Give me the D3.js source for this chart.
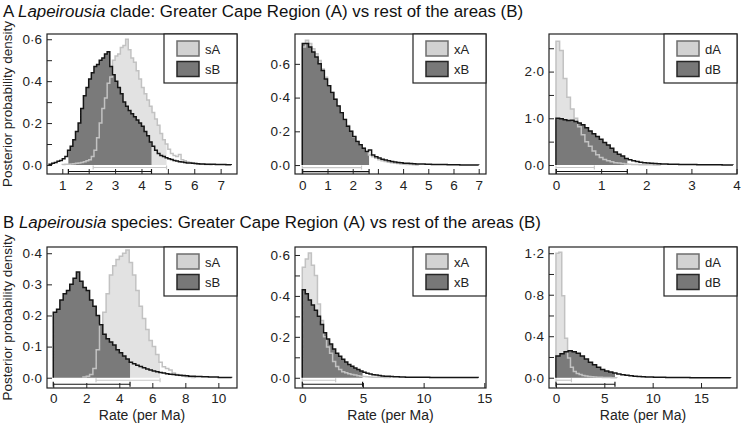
<!DOCTYPE html>
<html><head><meta charset="utf-8">
<script src="https://cdn.jsdelivr.net/npm/d3@7"></script>
<style>
html,body{margin:0;padding:0;background:#fff;}
svg{display:block;font-family:"Liberation Sans",Arial,Helvetica,sans-serif;}
</style></head><body>
<svg id="chart" width="741" height="425"></svg>
<script>
// ---------- DATA (histogram densities; bin = [start, width]) ----------
// Row A: clade
const cladeSA_bin = [1.0, 0.1];
const cladeSA = [0.002,0.003,0.004,0.005,0.006,0.008,0.010,0.012,0.016,0.020,
  0.025,0.040,0.070,0.130,0.200,0.270,0.320,0.390,0.420,0.500,
  0.520,0.530,0.560,0.570,0.600,0.550,0.510,0.490,0.450,0.410,
  0.370,0.340,0.310,0.280,0.250,0.220,0.190,0.150,0.120,0.100,
  0.075,0.055,0.045,0.040,0.050,0.025,0.020,0.015,0.012,0.009,
  0.007,0.005,0.004,0.003,0.002,0.002,0.001];
const cladeSB_bin = [0.5, 0.1];
const cladeSB = [0.003,0.008,0.012,0.018,0.022,
  0.030,0.040,0.070,0.090,0.120,0.160,0.200,0.270,0.330,0.370,
  0.410,0.440,0.470,0.480,0.500,0.510,0.530,0.540,0.470,0.430,
  0.400,0.370,0.340,0.300,0.280,0.260,0.245,0.230,0.215,0.200,
  0.185,0.160,0.140,0.110,0.090,0.070,0.055,0.045,0.040,0.034,
  0.030,0.026,0.022,0.019,0.016,0.014,0.012,0.010,0.009,0.008,
  0.007,0.006,0.005,0.005,0.004,0.004,0.003,0.003,0.002,0.002,
  0.002,0.002,0.001,0.001];
const cladeXA_bin = [0, 0.125];
const cladeXA = [0.70,0.74,0.72,0.69,0.66,0.62,0.57,0.52,0.47,0.43,
  0.39,0.35,0.31,0.27,0.235,0.20,0.165,0.14,0.12,0.10,
  0.08,0.06,0.05,0.04,0.032,0.026,0.021,0.017,0.014,0.011,
  0.009,0.007,0.005,0.004,0.003,0.002,0.001];
const cladeXB_bin = [0, 0.125];
const cladeXB = [0.72,0.72,0.70,0.67,0.64,0.60,0.56,0.51,0.47,0.43,
  0.39,0.35,0.31,0.27,0.23,0.20,0.17,0.14,0.12,0.10,
  0.08,0.09,0.06,0.05,0.042,0.035,0.030,0.025,0.021,0.018,
  0.015,0.013,0.011,0.010,0.009,0.008,0.007,0.006,0.006,0.005,
  0.005,0.004,0.004,0.003,0.003,0.003,0.002,0.002,0.002,0.002,
  0.001,0.001,0.001,0.001,0.001,0.001];
const cladeDA_bin = [0, 0.08];
const cladeDA = [2.65,2.45,1.85,1.45,1.20,1.00,0.82,0.65,0.50,0.40,
  0.30,0.22,0.16,0.12,0.09,0.07,0.05,0.04,0.03,0.022,
  0.016,0.012,0.009,0.007,0.005,0.004,0.003,0.002,0.001];
const cladeDB_bin = [0, 0.08];
const cladeDB = [1.00,0.99,0.97,0.95,0.96,0.93,0.90,0.86,0.80,0.73,
  0.67,0.61,0.55,0.48,0.43,0.36,0.28,0.23,0.19,0.14,
  0.11,0.09,0.075,0.06,0.05,0.04,0.035,0.03,0.025,0.022,
  0.02,0.018,0.016,0.014,0.012,0.011,0.01,0.009,0.008,0.007,
  0.006,0.005,0.004,0.004,0.003,0.003,0.002,0.002,0.001];
// Row B: species
const specSA_bin = [1.8, 0.2];
const specSA = [0.002,0.005,0.010,0.030,0.090,0.170,0.210,0.270,0.330,0.360,
  0.380,0.390,0.400,0.410,0.370,0.330,0.280,0.230,0.190,0.155,
  0.120,0.100,0.075,0.050,0.035,0.030,0.025,0.015,0.010,0.007,
  0.005,0.003,0.002,0.001];
const specSB_bin = [0, 0.2];
const specSB = [0.21,0.22,0.25,0.27,0.28,0.30,0.32,0.34,0.31,0.29,
  0.28,0.25,0.23,0.20,0.17,0.14,0.125,0.115,0.105,0.09,
  0.08,0.07,0.06,0.05,0.045,0.04,0.036,0.032,0.028,0.025,
  0.022,0.019,0.017,0.015,0.013,0.011,0.010,0.009,0.008,0.007,
  0.006,0.005,0.005,0.004,0.004,0.003,0.003,0.002,0.002,0.002,
  0.001,0.001,0.001,0.001];
const specXA_bin = [0, 0.25];
const specXA = [0.54,0.58,0.61,0.55,0.50,0.36,0.28,0.20,0.15,0.12,
  0.08,0.055,0.04,0.03,0.024,0.02,0.016,0.013,0.010,0.008,
  0.006,0.005,0.004,0.003,0.003,0.002,0.002,0.001,0.001];
const specXB_bin = [0, 0.25];
const specXB = [0.43,0.41,0.38,0.355,0.33,0.30,0.26,0.22,0.19,0.165,
  0.14,0.12,0.105,0.09,0.077,0.065,0.056,0.048,0.04,0.033,
  0.027,0.022,0.018,0.015,0.013,0.011,0.009,0.008,0.007,0.006,
  0.005,0.005,0.004,0.004,0.003,0.003,0.003,0.002,0.002,0.002,
  0.002,0.002,0.001,0.001,0.001,0.001,0.001,0.001,0.001,0.001,
  0.001,0.001,0.001,0.001,0.001,0.001,0.001,0.001];
const specDA_bin = [0, 0.3];
const specDA = [1.20,1.21,0.79,0.38,0.19,0.10,0.06,0.04,0.03,0.022,
  0.016,0.012,0.009,0.007,0.005,0.004,0.003,0.002,0.002,0.001,0.001];
const specDB_bin = [0, 0.42];
const specDB = [0.21,0.23,0.25,0.26,0.25,0.235,0.21,0.18,0.15,0.125,
  0.10,0.08,0.065,0.055,0.045,0.036,0.029,0.023,0.018,0.014,
  0.011,0.009,0.007,0.006,0.005,0.004,0.004,0.003,0.003,0.002,
  0.002,0.002,0.002,0.001,0.001,0.001,0.001,0.001,0.001,0.001,
  0.001,0.001,0.001];

// 95% HPD intervals [lo, hi]
const hpdCladeSA = [2.17, 4.95], hpdCladeSB = [1.23, 4.38];
const hpdCladeXA = [0, 2.35],    hpdCladeXB = [0, 2.65];
const hpdCladeDA = [0, 0.85],    hpdCladeDB = [0, 1.58];
const hpdSpecSA  = [2.59, 6.47], hpdSpecSB  = [0, 4.65];
const hpdSpecXA  = [0, 2.75],    hpdSpecXB  = [0, 4.97];
const hpdSpecDA  = [0, 1.6],     hpdSpecDB  = [0, 6.1];

// ticks
const xTicksCladeS = [1,2,3,4,5,6,7];
const xTicksCladeX = [0,1,2,3,4,5,6,7];
const xTicksCladeD = [0,1,2,3,4];
const xTicksSpecS  = [0,2,4,6,8,10];
const xTicksSpecX  = [0,5,10,15];
const xTicksSpecD  = [0,5,10,15];
const yTicksCladeS = [0,0.1,0.2,0.3,0.4,0.5,0.6], yLabCladeS = [0,0.2,0.4,0.6];
const yTicksCladeX = [0,0.2,0.4,0.6],             yLabCladeX = [0,0.2,0.4,0.6];
const yTicksCladeD = [0,0.5,1,1.5,2,2.5],         yLabCladeD = [0,1,2];
const yTicksSpecS  = [0,0.1,0.2,0.3,0.4],         yLabSpecS  = [0,0.1,0.2,0.3,0.4];
const yTicksSpecX  = [0,0.1,0.2,0.3,0.4,0.5,0.6], yLabSpecX  = [0,0.2,0.4,0.6];
const yTicksSpecD  = [0,0.2,0.4,0.6,0.8,1.0,1.2], yLabSpecD  = [0,0.4,0.8,1.2];

const titles = [
  {letter:"A", genus:"Lapeirousia", rest:" clade: Greater Cape Region (A) vs rest of the areas (B)"},
  {letter:"B", genus:"Lapeirousia", rest:" species: Greater Cape Region (A) vs rest of the areas (B)"}
];
const yTitle = "Posterior probability density";
const xTitle = "Rate (per Ma)";

// ---------- LAYOUT ----------
const cols = [[47,237],[295,486],[549,737]];
const rows = [[34,174],[247,388]];
const mk = (vals, bin, hpd, name) => ({vals, bin, hpd, name});
const panels = [
  {r:0,c:0, xd:[0.42,7.62], yd:[-0.043,0.625], xt:xTicksCladeS, yt:yTicksCladeS, yl:yLabCladeS,
   A:mk(cladeSA,cladeSA_bin,hpdCladeSA,"sA"), B:mk(cladeSB,cladeSB_bin,hpdCladeSB,"sB")},
  {r:0,c:1, xd:[-0.29,7.29], yd:[-0.053,0.777], xt:xTicksCladeX, yt:yTicksCladeX, yl:yLabCladeX,
   A:mk(cladeXA,cladeXA_bin,hpdCladeXA,"xA"), B:mk(cladeXB,cladeXB_bin,hpdCladeXB,"xB")},
  {r:0,c:2, xd:[-0.155,4.01], yd:[-0.193,2.805], xt:xTicksCladeD, yt:yTicksCladeD, yl:yLabCladeD,
   A:mk(cladeDA,cladeDA_bin,hpdCladeDA,"dA"), B:mk(cladeDB,cladeDB_bin,hpdCladeDB,"dB")},
  {r:1,c:0, xd:[-0.38,11.13], yd:[-0.033,0.42], xt:xTicksSpecS, yt:yTicksSpecS, yl:yLabSpecS,
   A:mk(specSA,specSA_bin,hpdSpecSA,"sA"), B:mk(specSB,specSB_bin,hpdSpecSB,"sB")},
  {r:1,c:1, xd:[-0.6,15.14], yd:[-0.05,0.639], xt:xTicksSpecX, yt:yTicksSpecX, yl:yLabSpecX,
   A:mk(specXA,specXA_bin,hpdSpecXA,"xA"), B:mk(specXB,specXB_bin,hpdSpecXB,"xB")},
  {r:1,c:2, xd:[-0.72,18.72], yd:[-0.099,1.26], xt:xTicksSpecD, yt:yTicksSpecD, yl:yLabSpecD,
   A:mk(specDA,specDA_bin,hpdSpecDA,"dA"), B:mk(specDB,specDB_bin,hpdSpecDB,"dB")}
];

const C = {lightFill:"#e2e2e2", lightLine:"#c2c2c2", darkFill:"#7a7a7a", darkLine:"#151515",
           swALine:"#6e6e6e", swAFill:"#d2d2d2", swBFill:"#787878", swBLine:"#262626"};

const svg = d3.select("#chart");
const dot = v => d3.format(".1f")(v).replace(".", "\u00B7");

function stepPoints(s){
  const [st, w] = s.bin; const pts = [[st,0]];
  s.vals.forEach((v,i)=>{ pts.push([st+i*w, v]); pts.push([st+(i+1)*w, v]); });
  pts.push([st+s.vals.length*w, 0]);
  return pts;
}

panels.forEach((p, idx) => {
  const [x0,x1] = cols[p.c], [y0,y1] = rows[p.r];
  const x = d3.scaleLinear().domain(p.xd).range([x0,x1]);
  const y = d3.scaleLinear().domain(p.yd).range([y1,y0]);
  const g = svg.append("g");
  const line = d3.line().x(d=>x(d[0])).y(d=>y(d[1]));
  const area = d3.area().x(d=>x(d[0])).y0(y(0)).y1(d=>y(d[1]));
  [["A",C.lightFill],["B",C.darkFill]].forEach(([k,col])=>{
    const s = p[k];
    const id = `clip${idx}${k}`;
    g.append("clipPath").attr("id",id).append("rect")
      .attr("x", x(s.hpd[0])).attr("y", y0).attr("width", x(s.hpd[1])-x(s.hpd[0])).attr("height", y1-y0);
    g.append("path").attr("d", area(stepPoints(s))).attr("fill", col).attr("clip-path", `url(#${id})`);
  });
  g.append("path").attr("d", line(stepPoints(p.A))).attr("fill","none").attr("stroke",C.lightLine).attr("stroke-width",1.5);
  g.append("path").attr("d", line(stepPoints(p.B))).attr("fill","none").attr("stroke",C.darkLine).attr("stroke-width",1.5);

  // HPD interval bars
  const zy = y(0);
  const bar = (s, yy, h, col) => {
    const xa = x(s.hpd[0]), xb = x(s.hpd[1]);
    g.append("line").attr("x1",xa).attr("x2",xb).attr("y1",yy).attr("y2",yy).attr("stroke",col).attr("stroke-width",1.2);
    [xa,xb].forEach(xx=>g.append("line").attr("x1",xx).attr("x2",xx).attr("y1",yy-h).attr("y2",yy+h).attr("stroke",col).attr("stroke-width",1.2));
  };
  bar(p.A, zy+2.5, 2, "#c8c8c8");
  bar(p.B, zy+6.5, 2.5, "#151515");

  // axes
  const ya = d3.axisLeft(y).tickValues(p.yt).tickSize(-5).tickPadding(5)
    .tickFormat(v => p.yl.some(l=>Math.abs(l-v)<1e-9) ? dot(v) : "");
  const ga = g.append("g").attr("transform",`translate(${x0},0)`).call(ya);
  const xa = d3.axisBottom(x).tickValues(p.xt).tickSize(-5).tickPadding(p.r===0?6:5).tickFormat(d3.format("d"));
  const gb = g.append("g").attr("transform",`translate(0,${y1})`).call(xa);
  [ga,gb].forEach(a=>{
    a.select(".domain").remove();
    a.selectAll(".tick line").attr("stroke","#222");
    a.selectAll(".tick text").attr("fill","#222").style("font-size","13.5px").style("font-family","'Liberation Sans',Arial,sans-serif");
  });
  g.append("rect").attr("x",x0).attr("y",y0).attr("width",x1-x0).attr("height",y1-y0)
    .attr("fill","none").attr("stroke","#222").attr("stroke-width",1.2);

  // legend
  const lw = 73, lh = 49, lx = x1-lw, ly = y0;
  const lg = g.append("g");
  lg.append("rect").attr("x",lx).attr("y",ly).attr("width",lw).attr("height",lh).attr("fill","#fff").attr("stroke","#222").attr("stroke-width",1.2);
  [[p.A, C.swAFill, C.swALine, 7],[p.B, C.swBFill, C.swBLine, 27.5]].forEach(([s,f,st,off])=>{
    lg.append("rect").attr("x",lx+13).attr("y",ly+off).attr("width",22).attr("height",15).attr("fill",f).attr("stroke",st).attr("stroke-width",1.5);
    lg.append("text").attr("x",lx+41).attr("y",ly+off+12.5).attr("fill","#222").style("font-size","13px").text(s.name);
  });

  if (p.r===1) {
    svg.append("text").attr("x",(x0+x1)/2).attr("y",420).attr("text-anchor","middle").attr("fill","#222")
      .style("font-size","14px").text(xTitle);
  }
  if (p.c===0) {
    svg.append("text").attr("transform",`translate(12,${(y0+y1)/2}) rotate(-90)`).attr("text-anchor","middle")
      .attr("fill","#222").style("font-size","13.5px").text(yTitle);
  }
});

titles.forEach((t,i)=>{
  const tx = svg.append("text").attr("x",3).attr("y", i===0?17:228).attr("fill","#111").style("font-size","16.9px");
  tx.append("tspan").text(t.letter+" ");
  tx.append("tspan").style("font-style","italic").text(t.genus);
  tx.append("tspan").text(t.rest);
});
</script>
</body></html>
